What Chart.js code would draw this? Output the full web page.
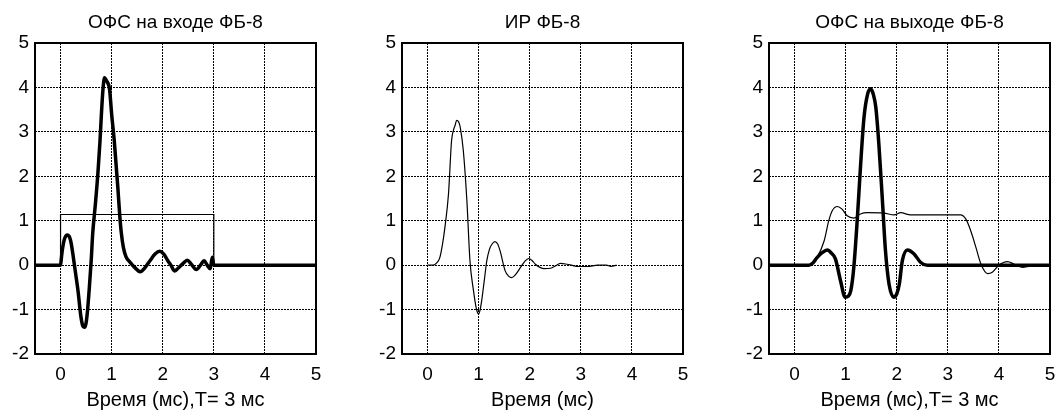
<!DOCTYPE html>
<html>
<head>
<meta charset="utf-8">
<script src="https://cdn.jsdelivr.net/npm/chart.js@4"></script>
<style>
  body { margin: 0; background: #fff; overflow: hidden; }
  #wrap { position: relative; width: 1055px; height: 414px; }
  canvas { position: absolute; top: 0; }
</style>
</head>
<body>
<div id="wrap">
  <canvas id="chart1" width="331" height="414" style="left:0px"></canvas>
  <canvas id="chart2" width="331" height="414" style="left:367px"></canvas>
  <canvas id="chart3" width="331" height="414" style="left:734px"></canvas>
</div>
<script>
"use strict";

const xTicks = [0, 1, 2, 3, 4, 5];
const yTicks = [-2, -1, 0, 1, 2, 3, 4, 5];

// ОФС на входе ФБ-8
const inputTime = [-0.5, 0, 0.02, 0.04, 0.08, 0.13, 0.18, 0.21, 0.24, 0.29, 0.34, 0.4, 0.44, 0.47, 0.5, 0.53, 0.56, 0.6, 0.63, 0.68, 0.73, 0.77, 0.8, 0.83, 0.86, 0.9, 0.96, 1.0, 1.05, 1.12, 1.16, 1.19, 1.23, 1.28, 1.35, 1.45, 1.56, 1.65, 1.75, 1.85, 1.94, 2.02, 2.1, 2.16, 2.23, 2.3, 2.4, 2.48, 2.56, 2.66, 2.74, 2.81, 2.87, 2.93, 2.97, 3.0, 5];
const inputSignal = [0, 0, 0.2, 0.38, 0.6, 0.68, 0.62, 0.48, 0.26, -0.15, -0.56, -1.17, -1.38, -1.4, -1.3, -1.0, -0.56, 0.1, 0.72, 1.35, 2.05, 2.75, 3.4, 3.95, 4.22, 4.15, 3.95, 3.4, 2.82, 1.77, 1.1, 0.72, 0.4, 0.19, 0.08, -0.05, -0.15, -0.06, 0.1, 0.25, 0.31, 0.25, 0.1, 0.0, -0.13, -0.07, 0.04, 0.11, 0.02, -0.1, 0.0, 0.1, 0.0, -0.08, 0.18, 0, 0];
const gateTime = [-0.5, 0, 0, 3, 3, 5];
const gateLevel = [0, 0, 1.14, 1.14, 0, 0];

// ИР ФБ-8
const irTime = [0, 0.11, 0.18, 0.24, 0.29, 0.34, 0.41, 0.47, 0.51, 0.54, 0.57, 0.61, 0.64, 0.7, 0.77, 0.83, 0.9, 0.95, 0.98, 1.0, 1.03, 1.06, 1.11, 1.16, 1.21, 1.26, 1.32, 1.37, 1.42, 1.52, 1.58, 1.65, 1.73, 1.82, 1.9, 1.98, 2.05, 2.11, 2.2, 2.28, 2.41, 2.5, 2.6, 2.73, 2.85, 2.93, 3.13, 3.33, 3.5, 3.59, 3.7];
const irValue = [0, 0, 0.05, 0.17, 0.45, 0.85, 1.6, 2.8, 3.05, 3.15, 3.26, 3.22, 3.1, 2.58, 1.45, 0.1, -0.58, -0.95, -1.07, -1.1, -1.0, -0.8, -0.35, 0.1, 0.35, 0.47, 0.53, 0.48, 0.32, -0.13, -0.24, -0.28, -0.2, -0.05, 0.08, 0.15, 0.1, 0.02, -0.05, -0.08, -0.07, -0.02, 0.04, 0.02, -0.01, -0.03, -0.03, 0, 0, -0.03, 0];

// ОФС на выходе ФБ-8
const outTime = [-0.5, 0.28, 0.36, 0.44, 0.54, 0.64, 0.72, 0.8, 0.9, 0.99, 1.05, 1.1, 1.16, 1.23, 1.29, 1.36, 1.43, 1.49, 1.54, 1.59, 1.65, 1.72, 1.78, 1.85, 1.94, 2.0, 2.05, 2.11, 2.21, 2.34, 2.47, 2.6, 5];
const outSignal = [0, 0, 0.05, 0.17, 0.28, 0.34, 0.27, 0.14, -0.35, -0.72, -0.7, -0.58, -0.05, 1.07, 2.2, 3.33, 3.85, 3.97, 3.85, 3.56, 2.73, 1.45, 0.32, -0.43, -0.72, -0.65, -0.43, 0.1, 0.34, 0.25, 0.06, 0, 0];
const gateOutTime = [0, 0.3, 0.44, 0.58, 0.67, 0.74, 0.84, 0.93, 1.03, 1.16, 1.29, 1.42, 1.75, 1.95, 2.08, 2.27, 2.73, 3.25, 3.35, 3.45, 3.55, 3.65, 3.78, 3.87, 4.0, 4.17, 4.3, 4.47, 4.63, 4.66];
const gateOutLevel = [0, 0, 0.17, 0.55, 1.0, 1.23, 1.32, 1.26, 1.11, 1.06, 1.15, 1.18, 1.17, 1.13, 1.18, 1.13, 1.13, 1.13, 1.04, 0.77, 0.4, 0.02, -0.19, -0.16, 0, 0.08, 0.02, -0.05, -0.02, -0.02];

const FONT = "'Liberation Sans', Arial, sans-serif";

const toPoints = (xs, ys) => xs.map((x, i) => ({ x: x, y: ys[i] }));

const framePlugin = {
  id: 'frame',
  afterDraw(chart) {
    const { ctx, chartArea } = chart;
    ctx.save();
    ctx.strokeStyle = '#000';
    ctx.lineWidth = 2;
    ctx.strokeRect(chartArea.left, chartArea.top, chartArea.right - chartArea.left, chartArea.bottom - chartArea.top);
    ctx.restore();
  }
};

function makeChart(id, title, xTitle, datasets) {
  return new Chart(document.getElementById(id), {
    type: 'line',
    data: { datasets: datasets },
    options: {
      responsive: false,
      animation: false,
      events: [],
      layout: { padding: { left: 0, right: 15, top: 0, bottom: 0 } },
      elements: { point: { radius: 0 }, line: { cubicInterpolationMode: 'monotone' } },
      plugins: {
        legend: { display: false },
        tooltip: { enabled: false },
        title: {
          display: true,
          text: title,
          fullSize: false,
          color: '#000',
          font: { family: FONT, size: 19, weight: 'normal', lineHeight: 1.2 },
          padding: { top: 11, bottom: 9.2 },
        },
      },
      scales: {
        x: {
          type: 'linear',
          min: -0.5,
          max: 5,
          afterBuildTicks: scale => { scale.ticks = xTicks.map(v => ({ value: v })); },
          afterFit: scale => { scale.height = 60; },
          grid: { color: '#000', lineWidth: 1, drawTicks: false },
          border: { display: false, dash: [2, 1] },
          ticks: { color: '#000', padding: 9, font: { family: FONT, size: 19 } },
          title: {
            display: true,
            text: xTitle,
            color: '#000',
            font: { family: FONT, size: 20 },
            padding: { top: 0, bottom: 2 },
          },
        },
        y: {
          type: 'linear',
          min: -2,
          max: 5,
          afterBuildTicks: scale => { scale.ticks = yTicks.map(v => ({ value: v })); },
          afterFit: scale => { scale.width = 35; },
          grid: { color: '#000', lineWidth: 1, drawTicks: false },
          border: { display: false, dash: [2, 1] },
          ticks: { color: '#000', padding: 6, font: { family: FONT, size: 19 } },
        },
      },
    },
    plugins: [framePlugin],
  });
}

const thick = (xs, ys) => ({ data: toPoints(xs, ys), borderColor: '#000', borderWidth: 3.5, borderJoinStyle: 'round', fill: false });
const thin = (xs, ys) => ({ data: toPoints(xs, ys), borderColor: '#000', borderWidth: 1.2, fill: false });

document.addEventListener("DOMContentLoaded", function () {
  makeChart('chart1', 'ОФС на входе ФБ-8', 'Время (мс),Т= 3 мс', [
    thick(inputTime, inputSignal),
    Object.assign(thin(gateTime, gateLevel), { cubicInterpolationMode: 'default', tension: 0 }),
  ]);
  makeChart('chart2', 'ИР ФБ-8', 'Время (мс)', [
    thin(irTime, irValue),
  ]);
  makeChart('chart3', 'ОФС на выходе ФБ-8', 'Время (мс),Т= 3 мс', [
    thick(outTime, outSignal),
    thin(gateOutTime, gateOutLevel),
  ]);
});
</script>
</body>
</html>
